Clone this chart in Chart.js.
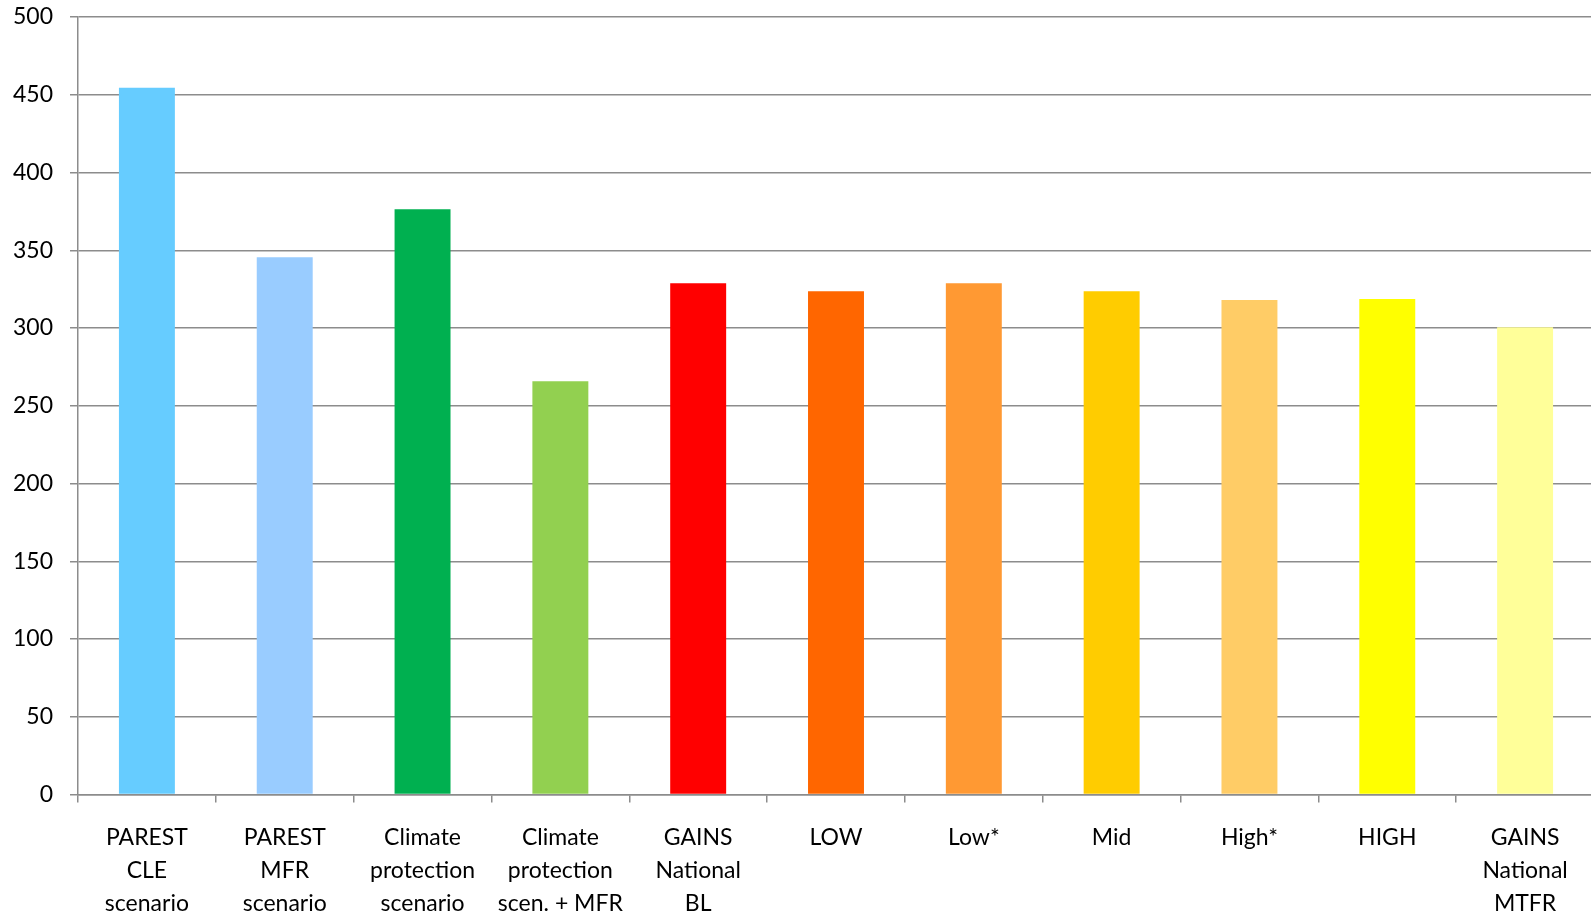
<!DOCTYPE html>
<html>
<head>
<meta charset="utf-8">
<script src="https://cdn.jsdelivr.net/npm/chart.js@4/dist/chart.umd.min.js"></script>
<style>
html,body{margin:0;padding:0;background:#fff;overflow:hidden;}
#wrap{width:1591px;height:916px;position:relative;overflow:hidden;}
</style>
</head>
<body>
<div id="wrap"><canvas id="c" width="1594" height="916"></canvas></div>
<script>
const categories = [
  ['PAREST','CLE','scenario'],
  ['PAREST','MFR','scenario'],
  ['Climate','protection','scenario'],
  ['Climate','protection','scen. + MFR'],
  ['GAINS','National','BL'],
  ['LOW'],
  ['Low*'],
  ['Mid'],
  ['High*'],
  ['HIGH'],
  ['GAINS','National','MTFR']
];
const values = [454.5, 345.5, 376.4, 265.8, 328.8, 323.6, 328.8, 323.6, 318, 318.7, 300.5];
const barColors = ['#66CCFF','#99CCFF','#00B050','#92D050','#FF0000','#FF6600','#FF9933','#FFCC00','#FFCC66','#FFFF00','#FFFF99'];
const yTicks = [0,50,100,150,200,250,300,350,400,450,500];

const gridColor = '#8c8c8c';
const fontFam = 'Lato, "Open Sans", sans-serif';

new Chart(document.getElementById('c'), {
  type: 'bar',
  data: {
    labels: categories,
    datasets: [{
      data: values,
      backgroundColor: barColors,
      borderWidth: 0,
      barPercentage: 0.406,
      categoryPercentage: 1.0
    }]
  },
  options: {
    responsive: false,
    animation: false,
    devicePixelRatio: 1,
    layout: { padding: { top: 17, right: 0, left: 0, bottom: 0 } },
    plugins: { legend: { display: false }, tooltip: { enabled: false } },
    scales: {
      x: {
        offset: true,
        grid: {
          offset: true,
          drawOnChartArea: false,
          drawTicks: true,
          tickLength: 8,
          color: gridColor,
          lineWidth: 1.5
        },
        border: { display: true, color: gridColor, width: 1.5 },
        ticks: {
          autoSkip: false,
          maxRotation: 0,
          minRotation: 0,
          padding: 19,
          color: '#000',
          font: { family: fontFam, size: 23, lineHeight: 1.43 }
        },
        afterFit: (s) => { s.height = 121.5; s.paddingLeft = 0; s.paddingRight = 0; }
      },
      y: {
        min: 0,
        max: 500,
        afterBuildTicks: (s) => { s.ticks = yTicks.map(v => ({ value: v })); },
        grid: {
          color: gridColor,
          lineWidth: 1.5,
          drawTicks: true,
          tickLength: 8
        },
        border: { display: true, color: gridColor, width: 1.5 },
        ticks: {
          padding: 17,
          color: '#000',
          font: { family: fontFam, size: 23 }
        },
        afterFit: (s) => { s.width = 78; s.paddingTop = 0; s.paddingBottom = 0; }
      }
    }
  }
});
</script>
</body>
</html>
